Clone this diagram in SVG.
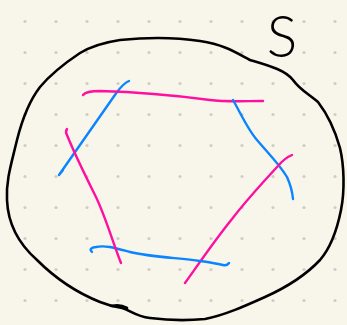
<svg xmlns="http://www.w3.org/2000/svg" width="347" height="325" viewBox="0 0 347 325">
<defs>
<pattern id="dots" x="0" y="0" width="31" height="31" patternUnits="userSpaceOnUse">
<circle cx="25" cy="21.5" r="1.6" fill="#cfcdc4"/>
</pattern>
<style>
.ink{fill:none;stroke-linecap:round;stroke-linejoin:round}
.blk{stroke:#000;stroke-width:2.6}
.blu{stroke:#0a84ff;stroke-width:2.4}
.mag{stroke:#ff0fa0;stroke-width:2.4}
</style>
</defs>
<rect width="347" height="325" fill="#f8f6eb"/>
<rect width="347" height="325" fill="url(#dots)"/>
<g id="blob">
<path class="ink blk" d="M120,40 C100,43 90,47 80,53 C65,63 50,75 40,87 C30,100 22,120 17,140 C11,165 6,180 7,200 C8,225 20,245 37,260 C55,278 75,292 100,302 C110,306 115,307 122,308 C130,310 135,316 150,318 C165,320 185,321 205,319 C225,315 245,306 265,297 C285,288 305,276 320,260 C333,245 338,225 341,210 C345,190 344,165 340,148 C335,130 328,115 318,102 C310,95 300,90 293,80 C285,70 270,66 250,60 C235,52 225,45 200,41 C180,38 150,37 120,40 Z"/>
<path class="ink blk" d="M112,306 Q120,304 127,308"/>
</g>
<g id="label-S">
<text x="282" y="57" font-family="Lato, 'DejaVu Sans', sans-serif" font-weight="300" font-size="57" text-anchor="middle" fill="#000">S</text>
</g>
<g id="connectors">
<path class="ink blu" d="M129,81 Q124,83 117,92 L59,175 L63,170"/>
<path class="ink mag" d="M83,95 Q86,91 100,91 C140,92 180,96 210,100 C225,102 245,101 263,101"/>
<path class="ink blu" d="M233,100 C240,112 248,130 257,140 C268,153 280,165 287,177 Q292,188 293,199"/>
<path class="ink mag" d="M292,155 C287,157 283,160 278,166 C265,180 245,202 232,219 C215,240 200,262 185,283"/>
<path class="ink blu" d="M92,252 Q88,248 96,247 C105,245 115,248 130,252 C150,257 180,258 200,261 C210,262 218,264 223,265 Q227,266 229,263"/>
<path class="ink mag" d="M67,129 Q65,132 67,135 C75,155 85,175 95,195 C105,215 112,240 121,263"/>
</g>
</svg>
